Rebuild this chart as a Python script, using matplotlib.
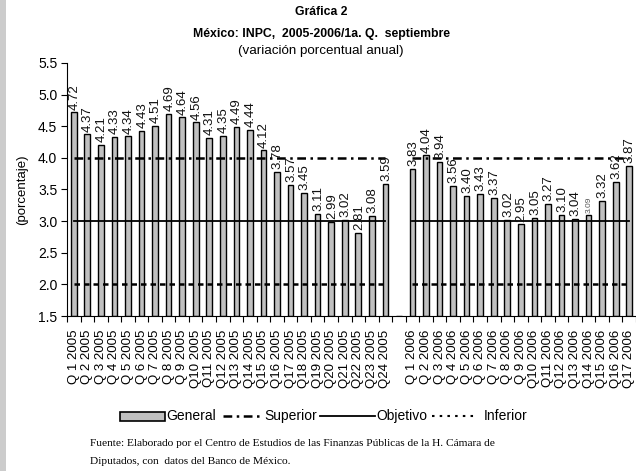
import matplotlib
matplotlib.use("Agg")
import matplotlib.pyplot as plt
from matplotlib.patches import Rectangle
from matplotlib.lines import Line2D
import numpy as np

plt.rcParams['font.family'] = ['Liberation Sans', 'DejaVu Sans']

# ---------------- data ----------------
labels_2005 = ["Q 1 2005", "Q 2 2005", "Q 3 2005", "Q 4 2005", "Q 5 2005", "Q 6 2005",
               "Q 7 2005", "Q 8 2005", "Q 9 2005", "Q10 2005", "Q11 2005", "Q12 2005",
               "Q13 2005", "Q14 2005", "Q15 2005", "Q16 2005", "Q17 2005", "Q18 2005",
               "Q19 2005", "Q20 2005", "Q21 2005", "Q22 2005", "Q23 2005", "Q24 2005"]
general_2005 = [4.72, 4.37, 4.21, 4.33, 4.34, 4.43, 4.51, 4.69, 4.64, 4.56, 4.31, 4.35,
                4.49, 4.44, 4.12, 3.78, 3.57, 3.45, 3.11, 2.99, 3.02, 2.81, 3.08, 3.59]
labels_2006 = ["Q 1 2006", "Q 2 2006", "Q 3 2006", "Q 4 2006", "Q 5 2006", "Q 6 2006",
               "Q 7 2006", "Q 8 2006", "Q 9 2006", "Q10 2006", "Q11 2006", "Q12 2006",
               "Q13 2006", "Q14 2006", "Q15 2006", "Q16 2006", "Q17 2006"]
general_2006 = [3.83, 4.04, 3.94, 3.56, 3.40, 3.43, 3.37, 3.02, 2.95, 3.05, 3.27, 3.10,
                3.04, 3.09, 3.32, 3.62, 3.87]
superior = 4.0
objetivo = 3.0
inferior = 2.0

# ---------------- figure ----------------
W, H = 636, 471
fig = plt.figure(figsize=(W / 100, H / 100), dpi=100)
fig.patches.append(Rectangle((0, 0), 6 / W, 1, transform=fig.transFigure,
                             facecolor='#cccccc', edgecolor='none', zorder=0))

ax = fig.add_axes([67 / W, 1 - 316 / H, 1 - 67 / W, (316 - 63) / H])

categories = labels_2005 + [""] + labels_2006
values = general_2005 + [np.nan] + general_2006
x = np.arange(len(categories))
x05 = x[:len(labels_2005)]
x06 = x[len(labels_2005) + 1:]

bar_color = '#c0c0c0'
sup_dash = (3.5, 1.8, 1.0, 1.8)
inf_dash = (2.2, 1.6)
ax.bar(x, [v - 1.5 if not np.isnan(v) else 0 for v in values], bottom=1.5, width=0.42,
       color=bar_color, edgecolor='black', linewidth=1.0, zorder=2)

for seg in (x05, x06):
    ax.plot(seg, [superior] * len(seg), color='black', lw=1.8, dashes=sup_dash, zorder=3)
    ax.plot(seg, [objetivo] * len(seg), color='black', lw=1.3, zorder=3)
    ax.plot(seg, [inferior] * len(seg), color='black', lw=1.8, dashes=inf_dash, zorder=3)

for xi, v in zip(x, values):
    if np.isnan(v):
        continue
    small = abs(v - 3.09) < 1e-9
    ax.annotate(f"{v:.2f}", (xi, v), xytext=(0.5, 2), textcoords='offset points',
                rotation=90, ha='center', va='bottom',
                fontsize=6 if small else 9.5,
                color='#555555' if small else '#111111', zorder=4)

ax.set_xlim(-0.5, len(categories) - 0.5)
ax.set_ylim(1.5, 5.5)
ax.set_yticks(np.arange(1.5, 5.51, 0.5))
ax.set_yticklabels([f"{t:.1f}" for t in np.arange(1.5, 5.51, 0.5)], fontsize=10)
ax.set_xticks(x)
ax.set_xticklabels(categories, rotation=90, fontsize=9.5)
ax.tick_params(axis='x', which='major', length=0, pad=10)
ax.set_xticks(np.arange(-0.5, len(categories), 1.0), minor=True)
ax.tick_params(axis='x', which='minor', length=4, direction='out', width=0.8)
ax.tick_params(axis='y', length=4, direction='out', width=0.8, pad=3)
for s in ('top', 'right'):
    ax.spines[s].set_visible(False)
ax.spines['left'].set_linewidth(0.8)
ax.spines['bottom'].set_linewidth(0.8)
ax.set_ylabel("(porcentaje)", fontsize=9.5, labelpad=7)

# ---------------- titles ----------------
cx = 321 / W
fig.text(cx, 1 - 12 / H, "Gráfica 2", ha='center', va='center', fontsize=8.8, fontweight='bold')
fig.text(cx, 1 - 34 / H, "México: INPC,  2005-2006/1a. Q.  septiembre", ha='center',
         va='center', fontsize=8.8, fontweight='bold')
fig.text(cx, 1 - 51 / H, "(variación porcentual anual)", ha='center', va='center', fontsize=9.6)

# ---------------- legend ----------------
ly = 1 - 416 / H
def fx(px):
    return px / W
fig.add_artist(Rectangle((fx(120), 1 - 420.5 / H), fx(45), 9 / H, transform=fig.transFigure,
                         facecolor=bar_color, edgecolor='black', linewidth=1.2))
fig.text(fx(166), ly, "General", ha='left', va='center', fontsize=10)
fig.add_artist(Line2D([fx(223), fx(261)], [ly, ly], transform=fig.transFigure,
                      color='black', lw=1.8, dashes=sup_dash))
fig.text(fx(264), ly, "Superior", ha='left', va='center', fontsize=10)
fig.add_artist(Line2D([fx(320), fx(375)], [ly, ly], transform=fig.transFigure,
                      color='black', lw=1.3))
fig.text(fx(376), ly, "Objetivo", ha='left', va='center', fontsize=10)
fig.add_artist(Line2D([fx(432), fx(478)], [ly, ly], transform=fig.transFigure,
                      color='black', lw=1.5, dashes=(1.2, 2.5)))
fig.text(fx(484), ly, "Inferior", ha='left', va='center', fontsize=10)

# ---------------- source ----------------
fig.text(fx(90), 1 - 444 / H,
         "Fuente: Elaborado por el Centro de Estudios de las Finanzas Públicas de la H. Cámara de",
         ha='left', va='center', fontsize=8.2, family=['Liberation Serif', 'DejaVu Serif'])
fig.text(fx(90), 1 - 462 / H, "Diputados, con  datos del Banco de México.",
         ha='left', va='center', fontsize=8.2, family=['Liberation Serif', 'DejaVu Serif'])

fig.savefig("out.png", dpi=100)
